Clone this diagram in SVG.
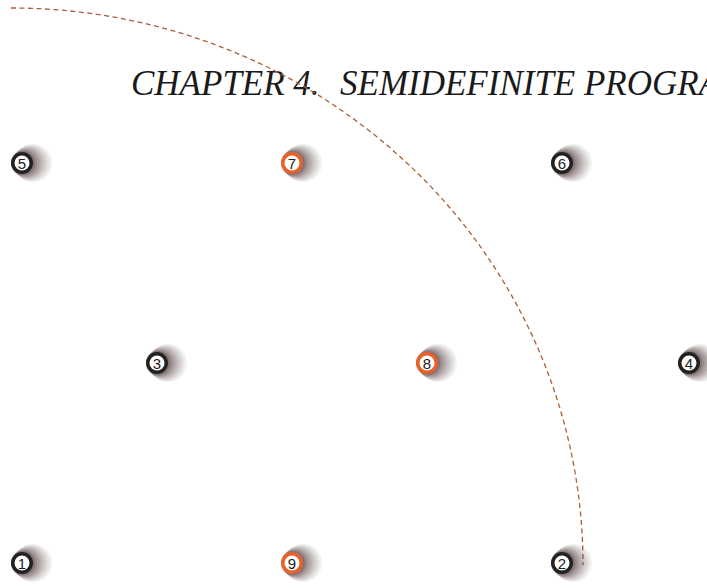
<svg xmlns="http://www.w3.org/2000/svg" xmlns:xlink="http://www.w3.org/1999/xlink" width="707" height="588" viewBox="0 0 707 588">
<style>
.arc{fill:none;stroke:#a8603a;stroke-width:1.3;stroke-dasharray:5,3.5}
.title{font-family:"Liberation Serif",serif;font-style:italic;font-size:35px;fill:#1a1a1a}
.ringk{fill:#222}
.ringo{fill:#e8602a}
.inner{fill:#fff}
.dig{font-family:"Liberation Sans",Arial,sans-serif;font-size:15px;text-anchor:middle;dominant-baseline:central;fill:#222}
.sh{fill:#4a3535}
</style>
<defs>
<g id="shadow">
<circle class="sh" cx="11" cy="0" r="19" opacity="0.07"/>
<circle class="sh" cx="9.5" cy="0" r="18" opacity="0.08"/>
<circle class="sh" cx="8" cy="0" r="17" opacity="0.09"/>
<circle class="sh" cx="6.5" cy="0" r="16" opacity="0.1"/>
<circle class="sh" cx="5" cy="0" r="15" opacity="0.12"/>
<circle class="sh" cx="3.5" cy="0" r="14" opacity="0.15"/>
<circle class="sh" cx="2" cy="0" r="13" opacity="0.18"/>
<circle class="sh" cx="1" cy="0" r="12" opacity="0.25"/>
</g>
</defs>
<text class="title" y="95"><tspan x="131">CHAPTER 4.</tspan><tspan x="340">SEMIDEFINITE PROGRA</tspan></text>
<g id="connectors">
<path class="arc" d="M11,8 A572,557 0 0 1 583,565"/>
</g>
<g id="n5" transform="translate(22,163)"><use xlink:href="#shadow"/><circle class="ringk" r="11"/><circle class="inner" r="7.5"/><text class="dig" y="0.5">5</text></g>
<g id="n7" transform="translate(292,163)"><use xlink:href="#shadow"/><circle class="ringo" r="11"/><circle class="inner" r="7.5"/><text class="dig" y="0.5">7</text></g>
<g id="n6" transform="translate(562,163)"><use xlink:href="#shadow"/><circle class="ringk" r="11"/><circle class="inner" r="7.5"/><text class="dig" y="0.5">6</text></g>
<g id="n3" transform="translate(157,363)"><use xlink:href="#shadow"/><circle class="ringk" r="11"/><circle class="inner" r="7.5"/><text class="dig" y="0.5">3</text></g>
<g id="n8" transform="translate(427,363)"><use xlink:href="#shadow"/><circle class="ringo" r="11"/><circle class="inner" r="7.5"/><text class="dig" y="0.5">8</text></g>
<g id="n4" transform="translate(689,363)"><use xlink:href="#shadow"/><circle class="ringk" r="11"/><circle class="inner" r="7.5"/><text class="dig" y="0.5">4</text></g>
<g id="n1" transform="translate(22,563)"><use xlink:href="#shadow"/><circle class="ringk" r="11"/><circle class="inner" r="7.5"/><text class="dig" y="0.5">1</text></g>
<g id="n9" transform="translate(292,563)"><use xlink:href="#shadow"/><circle class="ringo" r="11"/><circle class="inner" r="7.5"/><text class="dig" y="0.5">9</text></g>
<g id="n2" transform="translate(562,563)"><use xlink:href="#shadow"/><circle class="ringk" r="11"/><circle class="inner" r="7.5"/><text class="dig" y="0.5">2</text></g>
</svg>
